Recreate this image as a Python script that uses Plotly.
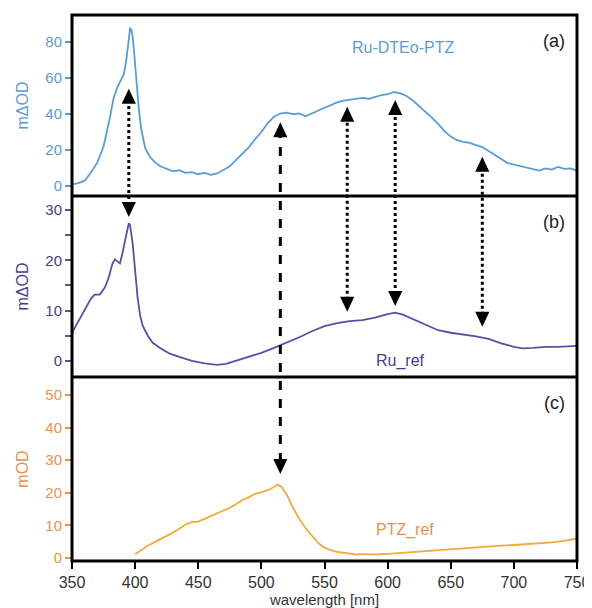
import plotly.graph_objects as go

# ---- data ----
wl_a = [350, 355, 360, 365, 370, 375, 380, 383, 386, 389, 391, 393, 394, 395, 396, 397, 398, 399, 400,
        401, 402, 403, 405, 408, 412, 416, 420, 425, 430, 435, 440, 445, 450, 455, 460, 465, 470, 475,
        480, 485, 490, 495, 500, 505, 510, 515, 520, 525, 530, 535, 540, 545, 550, 555, 560, 565, 570,
        575, 580, 585, 590, 595, 600, 605, 610, 615, 620, 625, 630, 635, 640, 645, 650, 655, 660, 665,
        670, 675, 680, 685, 690, 695, 700, 705, 710, 715, 720, 725, 730, 735, 740, 745, 750]
od_a = [1.0, 1.6, 3.0, 7.5, 13, 22, 38, 49, 55, 59, 62, 70, 76, 82, 87.5, 87, 83, 76, 68,
        60, 50, 42, 31, 21, 16, 13, 11, 9.5, 8.2, 8.8, 7.4, 7.8, 6.6, 7.3, 6.2, 7.0, 8.8, 11,
        14.5, 18, 21.5, 26, 30, 35, 38.5, 40.3, 40.8, 40, 40.3, 38.8, 40.5, 42, 43.5, 45, 46.5, 47.5, 48,
        48.6, 49, 48.5, 49.5, 50.5, 51, 52.3, 51.5, 50, 47.5, 44.5, 41.5, 38, 34.5, 30.5, 27.5, 25.5, 24.5, 24,
        22.8, 21.6, 19.5, 17, 15, 12.8, 12, 10.8, 10, 9.2, 8.6, 9.8, 9.2, 10.6, 9.6, 9.8, 8.5]

wl_b = [350, 355, 360, 365, 368, 372, 376, 379, 382, 384, 386, 388, 390, 392, 394, 395, 396, 398, 400,
        402, 404, 406, 410, 414, 420, 427, 435, 445, 455, 465, 472, 480, 490, 500, 510, 515, 520, 530,
        540, 550, 560, 570, 580, 590, 600, 606, 612, 620, 630, 640, 650, 660, 670, 680, 690, 700, 707,
        715, 725, 735, 745, 750]
od_b = [5.6, 7.8, 10, 12.4, 13.2, 13.2, 14.6, 16.5, 19.3, 20.2, 19.8, 19.4, 21.5, 24, 26.5, 27.4, 27, 23.5, 18,
        12.5, 9, 7, 5, 3.6, 2.5, 1.5, 0.8, 0, -0.5, -0.8, -0.6, 0, 0.8, 1.6, 2.6, 3.1, 3.6, 4.7,
        5.9, 6.9, 7.5, 7.9, 8.1, 8.6, 9.3, 9.6, 9.2, 8.3, 7.1, 6.1, 5.6, 5.3, 4.9, 4.4, 3.5, 2.8, 2.5,
        2.6, 2.8, 2.8, 3.0, 3.0]

wl_c = [400, 405, 410, 415, 420, 425, 430, 435, 440, 445, 450, 455, 460, 465, 470, 475, 480, 485, 490,
        495, 500, 505, 510, 513, 516, 520, 525, 530, 535, 540, 545, 550, 555, 560, 565, 570, 575, 580,
        590, 600, 610, 620, 630, 640, 650, 660, 670, 680, 690, 700, 710, 720, 730, 740, 750]
od_c = [1.2, 2.5, 3.8, 4.8, 5.8, 6.6, 7.8, 9.0, 10.3, 11.0, 11.2, 12, 12.8, 13.8, 14.6, 15.4, 16.5, 17.8, 18.6,
        19.7, 20.2, 20.8, 21.8, 22.5, 21.8, 19.5, 15.5, 12, 9.2, 6.8, 4.6, 3.2, 2.4, 1.9, 1.6, 1.3, 1.1, 1.2,
        1.1, 1.3, 1.6, 1.8, 2.0, 2.3, 2.6, 3.0, 3.4, 3.6, 3.8, 4.0, 4.2, 4.5, 4.8, 5.3, 6.0]

x_ticks = [350, 400, 450, 500, 550, 600, 650, 700, 750]

# arrows: wavelength, (panel, value) at top tip, (panel, value) at bottom tip, dash
arrow_wl = [395, 515, 568, 606, 675]
arrow_top = [("a", 54), ("a", 35.5), ("a", 44), ("a", 47.8), ("a", 16.3)]
arrow_bot = [("b", 28.6), ("c", 25.8), ("b", 9.8), ("b", 10.9), ("b", 6.8)]
arrow_dash = ["dot", "dash", "dot", "dot", "dot"]

# ---- styling ----
C_A = "#5b9bd5"
C_B = "#5e4ea3"
C_BT = "#4a3d86"
C_C = "#f2aa3a"
C_CT = "#e8924a"
FONT = "Liberation Sans, Arial, sans-serif"

ranges = {"a": [-5.5, 95], "b": [-3.2, 32.8], "c": [-0.9, 55.5]}
domains = {"c": [0.0, 0.337], "b": [0.337, 0.6685], "a": [0.6685, 1.0]}

fig = go.Figure()
fig.add_trace(go.Scatter(x=wl_a, y=od_a, mode="lines", line=dict(color=C_A, width=1.8),
                         xaxis="x", yaxis="y", showlegend=False))
fig.add_trace(go.Scatter(x=wl_b, y=od_b, mode="lines", line=dict(color=C_B, width=1.8),
                         xaxis="x2", yaxis="y2", showlegend=False))
fig.add_trace(go.Scatter(x=wl_c, y=od_c, mode="lines", line=dict(color=C_C, width=1.8),
                         xaxis="x3", yaxis="y3", showlegend=False))

base = dict(showline=False, zeroline=False, showgrid=False, automargin=False)
xr = [350, 750]

def yax(panel, color, tcolor, dtick, title, minor=None):
    d = dict(range=ranges[panel], domain=domains[panel], dtick=dtick, tick0=0,
             ticks="outside", ticklen=6, tickwidth=2, tickcolor=color,
             tickfont=dict(family=FONT, size=15, color=tcolor),
             title=dict(text=title, font=dict(family=FONT, size=16, color=tcolor), standoff=12),
             **base)
    if minor:
        d["minor"] = minor
    return d

fig.update_layout(
    width=584, height=600,
    margin=dict(l=64, r=15, t=7, b=47),
    paper_bgcolor="white", plot_bgcolor="white",
    xaxis=dict(anchor="y", range=xr, showticklabels=False, ticks="", **base),
    xaxis2=dict(anchor="y2", range=xr, showticklabels=False, ticks="", matches="x", **base),
    xaxis3=dict(anchor="y3", range=xr, tickvals=x_ticks, ticks="outside", ticklen=7, tickwidth=2,
                tickcolor="black", matches="x",
                tickfont=dict(family=FONT, size=16, color="#333333"),
                title=dict(text="wavelength [nm]", font=dict(family=FONT, size=15, color="#333333"),
                           standoff=0),
                **base),
    yaxis=yax("a", C_A, C_A, 20, "mΔOD"),
    yaxis2=yax("b", C_B, C_BT, 10, "mΔOD",
               minor=dict(dtick=5, tick0=0, ticks="outside", ticklen=6, tickwidth=2, tickcolor=C_B)),
    yaxis3=yax("c", C_CT, C_CT, 10, "mOD"),
)

# frame and panel separators
fig.add_shape(type="rect", xref="paper", yref="paper", x0=0, x1=1, y0=0, y1=1,
              line=dict(color="black", width=3), layer="above")
for p in ("b", "a"):
    fig.add_shape(type="line", xref="paper", yref="paper", x0=0, x1=1,
                  y0=domains[p][0], y1=domains[p][0], line=dict(color="black", width=3),
                  layer="above")

# labels
fig.add_annotation(x=0.98, y=0.975, xref="paper", yref="paper", xanchor="right", yanchor="top",
                   text="(a)", showarrow=False, font=dict(family=FONT, size=18, color="#222222"))
fig.add_annotation(x=0.98, y=domains["b"][1] - 0.025, xref="paper", yref="paper", xanchor="right",
                   yanchor="top", text="(b)", showarrow=False,
                   font=dict(family=FONT, size=18, color="#222222"))
fig.add_annotation(x=0.98, y=domains["c"][1] - 0.025, xref="paper", yref="paper", xanchor="right",
                   yanchor="top", text="(c)", showarrow=False,
                   font=dict(family=FONT, size=18, color="#222222"))
fig.add_annotation(x=612, y=77, xref="x", yref="y", text="Ru-DTEo-PTZ", showarrow=False,
                   font=dict(family=FONT, size=16, color=C_A))
fig.add_annotation(x=610, y=0.0, xref="x2", yref="y2", text="Ru_ref", showarrow=False,
                   font=dict(family=FONT, size=16, color=C_BT))
fig.add_annotation(x=614, y=8.5, xref="x3", yref="y3", text="PTZ_ref", showarrow=False,
                   font=dict(family=FONT, size=16, color=C_CT))

def to_paper(panel, v):
    r0, r1 = ranges[panel]
    d0, d1 = domains[panel]
    return d0 + (v - r0) / (r1 - r0) * (d1 - d0)

head_h = 15 / 546.0
head_hw = 5.6  # nm half width
for w, top, bot, dash in zip(arrow_wl, arrow_top, arrow_bot, arrow_dash):
    yt = to_paper(*top)
    yb = to_paper(*bot)
    fig.add_shape(type="line", xref="x", yref="paper", x0=w, x1=w, y0=yb + head_h * 0.8,
                  y1=yt - head_h * 0.8, line=dict(color="black", width=3, dash=dash))
    fig.add_shape(type="path", xref="x", yref="paper", fillcolor="black", line=dict(width=0),
                  path=f"M {w} {yt} L {w - head_hw} {yt - head_h} L {w + head_hw} {yt - head_h} Z")
    fig.add_shape(type="path", xref="x", yref="paper", fillcolor="black", line=dict(width=0),
                  path=f"M {w} {yb} L {w - head_hw} {yb + head_h} L {w + head_hw} {yb + head_h} Z")

fig.write_html("out.html")
